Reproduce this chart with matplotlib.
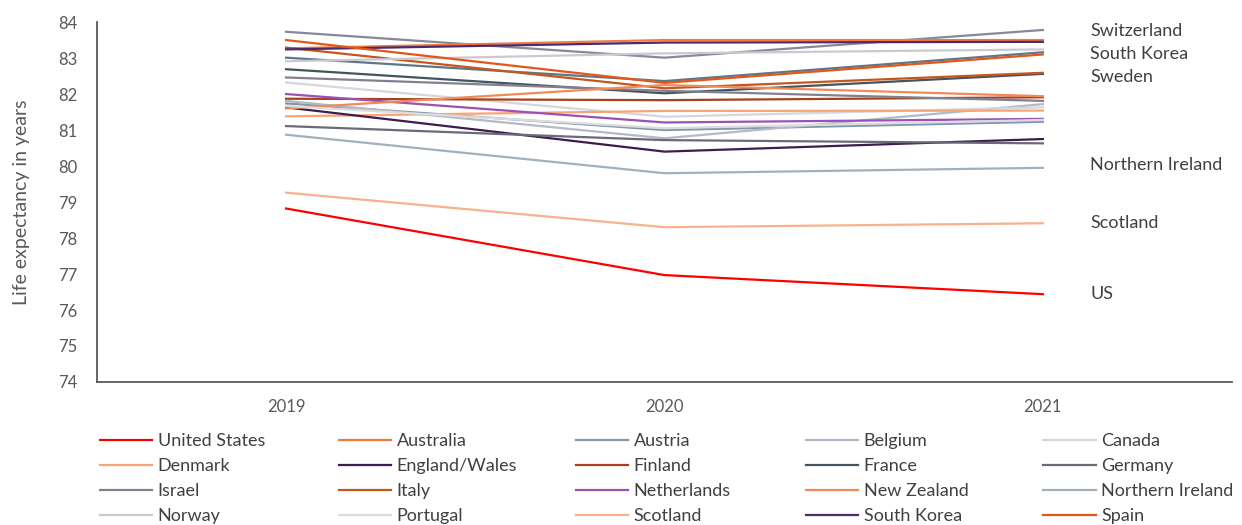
# Life expectancy 2019-2021: US against comparable countries
import numpy as np
import matplotlib.pyplot as plt

plt.rcParams['font.family'] = ['Lato', 'DejaVu Sans']

# data
years = ['2019', '2020', '2021']

united_states    = [78.82, 76.97, 76.44]
australia        = [83.27, 83.50, 83.50]
austria          = [81.74, 81.00, 81.23]
belgium          = [81.81, 80.77, 81.72]
canada           = [82.32, 81.37, 81.63]
denmark          = [81.38, 81.53, 81.54]
england_wales    = [81.63, 80.40, 80.75]
finland          = [81.87, 81.83, 81.91]
france           = [82.69, 82.02, 82.56]
germany          = [81.11, 80.72, 80.63]
israel           = [82.46, 82.09, 81.81]
italy            = [83.29, 82.16, 82.59]
netherlands      = [82.00, 81.21, 81.31]
new_zealand      = [81.60, 82.25, 81.94]
northern_ireland = [80.87, 79.80, 79.95]
norway           = [82.91, 83.13, 83.24]
portugal         = [81.67, 81.05, 81.28]
scotland         = [79.26, 78.30, 78.41]
south_korea      = [83.24, 83.43, 83.45]
spain            = [83.50, 82.31, 83.10]
switzerland      = [83.73, 83.01, 83.78]
sweden           = [83.01, 82.36, 83.16]

# legend entries (row by row) and their line colours
legend_names = ['United States', 'Australia', 'Austria', 'Belgium', 'Canada',
                'Denmark', 'England/Wales', 'Finland', 'France', 'Germany',
                'Israel', 'Italy', 'Netherlands', 'New Zealand', 'Northern Ireland',
                'Norway', 'Portugal', 'Scotland', 'South Korea', 'Spain']
legend_data  = [united_states, australia, austria, belgium, canada,
                denmark, england_wales, finland, france, germany,
                israel, italy, netherlands, new_zealand, northern_ireland,
                norway, portugal, scotland, south_korea, spain]
colors       = ['#ff0000', '#f07a40', '#8098aa', '#b3bac6', '#d6d6dc',
                '#f7a574', '#3e1c4e', '#a8401c', '#44535e', '#6a6a78',
                '#82808f', '#c4561e', '#9b50b8', '#f28a58', '#a2b0bb',
                '#c9c9d2', '#dcdce0', '#f9b08c', '#4d2a6c', '#e2581a']

# countries drawn without a legend entry
extra_names  = ['Switzerland', 'Sweden']
extra_data   = [switzerland, sweden]
extra_colors = ['#888898', '#5e7686']

# end labels, (name, series, vertical nudge in years)
end_labels = [('Switzerland', switzerland, -0.03),
              ('South Korea', south_korea, -0.34),
              ('Sweden', sweden, -0.69),
              ('Northern Ireland', northern_ireland, 0.08),
              ('Scotland', scotland, 0.0),
              ('US', united_states, 0.0)]

text_col = '#404040'
axis_col = '#595959'

fig = plt.figure(figsize=(12.42, 5.25), dpi=100)
ax = fig.add_axes([0.078, 0.2724, 0.914, 0.6856])

x = np.arange(len(years))
for vals, col in zip(extra_data, extra_colors):
    ax.plot(x, vals, color=col, lw=1.6, solid_joinstyle='miter')
handles = []
for name, vals, col in zip(legend_names, legend_data, colors):
    line, = ax.plot(x, vals, color=col, lw=1.6, label=name, solid_joinstyle='miter')
    handles.append(line)
# keep US on top
handles[0].set_zorder(5)

for name, vals, dy in end_labels:
    ax.text(2.125, vals[-1] + dy, name, fontsize=13, color=text_col,
            va='center', ha='left')

ax.set_xlim(-0.5, 2.5)
ax.set_ylim(74, 84)
ax.set_xticks(x)
ax.set_xticklabels(years)
ax.set_yticks(np.arange(74, 85, 1))
ax.tick_params(axis='both', length=0, labelsize=12, colors=axis_col)
ax.tick_params(axis='x', pad=12)
ax.tick_params(axis='y', pad=14)
for s in ['top', 'right']:
    ax.spines[s].set_visible(False)
for s in ['left', 'bottom']:
    ax.spines[s].set_color(axis_col)
    ax.spines[s].set_linewidth(1.3)
ax.set_ylabel('Life expectancy in years', fontsize=14, color=axis_col, labelpad=20)

# legend: one block per column so the columns sit at even spacing
ncol, nrow = 5, 4
col_x = [0.0805, 0.273, 0.4635, 0.649, 0.84]
for c in range(ncol):
    idx = [r * ncol + c for r in range(nrow)]
    leg = fig.legend([handles[i] for i in idx], [legend_names[i] for i in idx],
                     loc='upper left', bbox_to_anchor=(col_x[c], 0.175),
                     frameon=False, fontsize=13, handlelength=2.9,
                     handletextpad=0.3, labelspacing=0.5,
                     borderaxespad=0, borderpad=0)
    for t in leg.get_texts():
        t.set_color(text_col)

fig.savefig('out.png', dpi=100)
